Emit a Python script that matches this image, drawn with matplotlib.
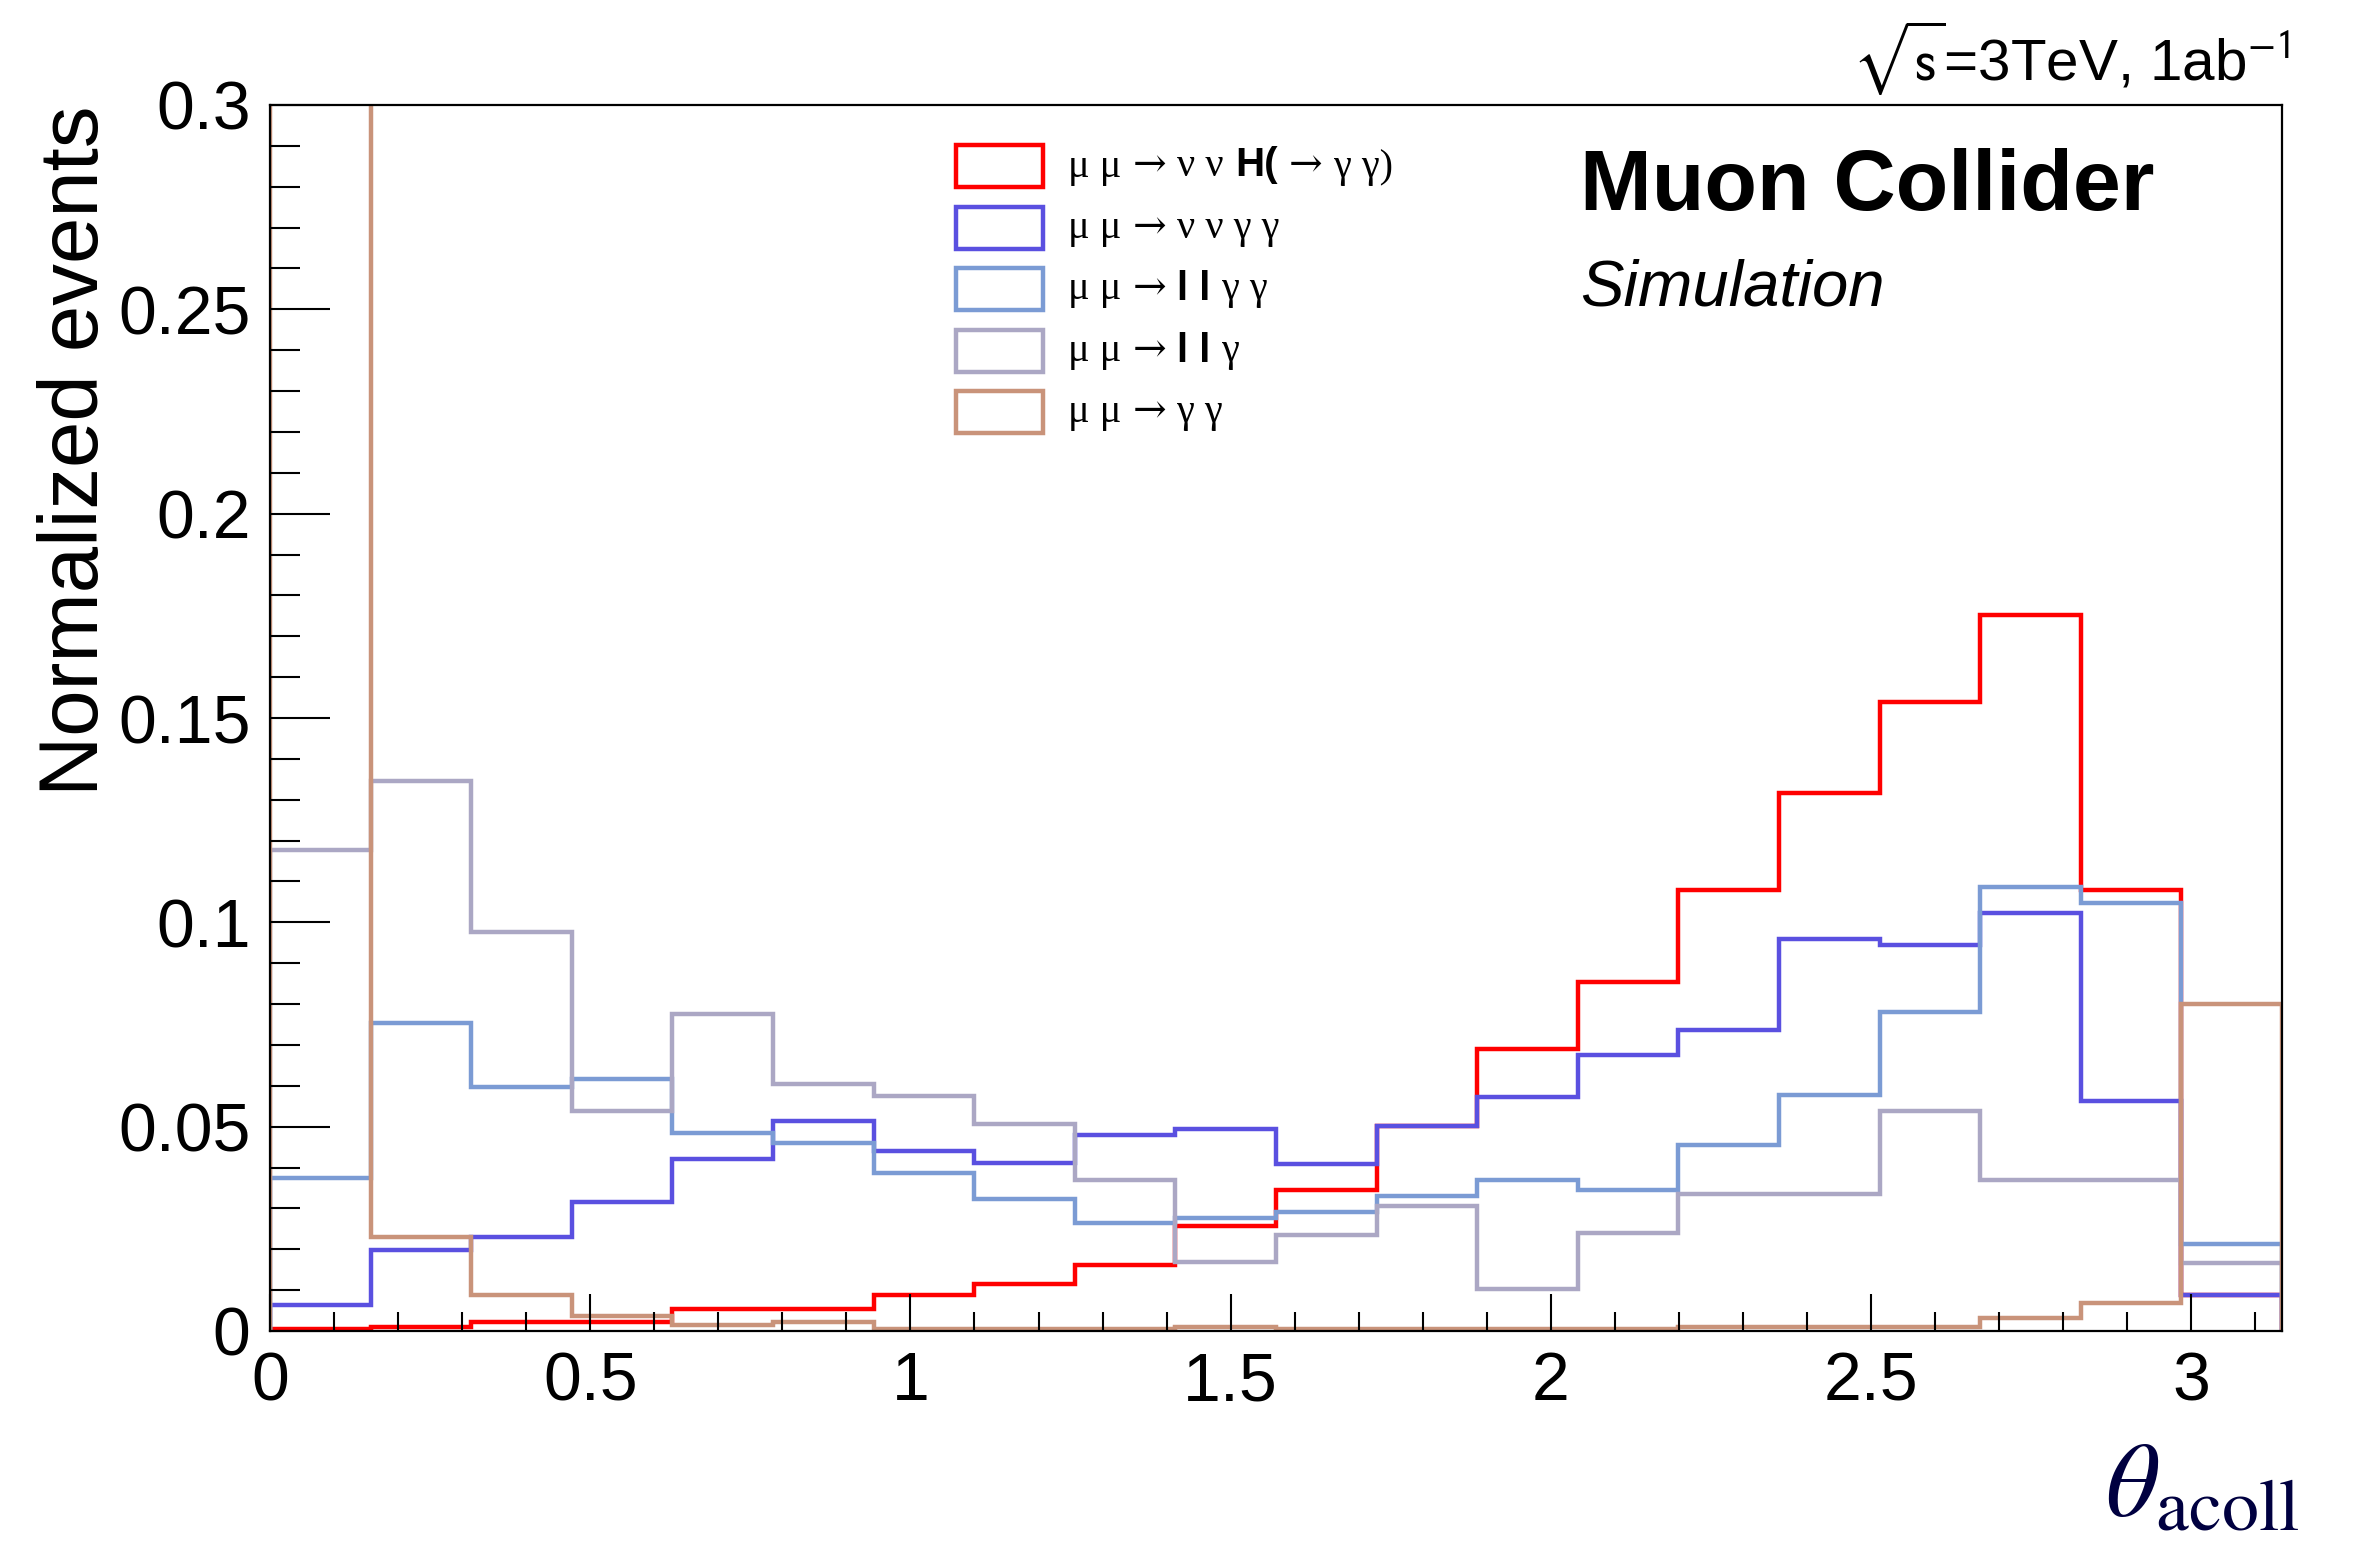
import numpy as np
import matplotlib
matplotlib.use("Agg")
import matplotlib.pyplot as plt
from matplotlib.patches import Rectangle
from matplotlib.ticker import MultipleLocator, FuncFormatter
from matplotlib.offsetbox import TextArea, HPacker, AnchoredOffsetbox

# acollinearity angle, 20 bins between 0 and pi
edges = np.linspace(0, np.pi, 21)

h_nnh = [0.0005, 0.0010, 0.0023, 0.0023, 0.0054, 0.0054, 0.0087, 0.0115, 0.0162, 0.0258,
         0.0344, 0.0501, 0.0689, 0.0853, 0.1078, 0.1317, 0.1540, 0.1753, 0.1078, 0.0087]
h_nngg = [0.0063, 0.0199, 0.0231, 0.0316, 0.0422, 0.0514, 0.0441, 0.0412, 0.0480, 0.0494,
          0.0408, 0.0501, 0.0572, 0.0675, 0.0736, 0.0958, 0.0944, 0.1022, 0.0564, 0.0087]
h_llgg = [0.0375, 0.0754, 0.0598, 0.0617, 0.0485, 0.0459, 0.0386, 0.0323, 0.0265, 0.0276,
          0.0290, 0.0330, 0.0370, 0.0344, 0.0455, 0.0578, 0.0780, 0.1087, 0.1047, 0.0213]
h_llg = [0.1176, 0.1346, 0.0977, 0.0539, 0.0776, 0.0604, 0.0574, 0.0506, 0.0370, 0.0168,
         0.0236, 0.0305, 0.0103, 0.0239, 0.0335, 0.0335, 0.0539, 0.0370, 0.0370, 0.0167]
h_gg = [0.5500, 0.0231, 0.0089, 0.0036, 0.0014, 0.0023, 0.0005, 0.0005, 0.0005, 0.0010,
        0.0005, 0.0005, 0.0005, 0.0005, 0.0010, 0.0010, 0.0010, 0.0033, 0.0068, 0.0801]

samples = [h_nnh, h_nngg, h_llgg, h_llg, h_gg]
colors = ["#ff0000", "#5a50e0", "#7b9bd4", "#aba7c4", "#c9937a"]

SER = ["Liberation Serif", "DejaVu Serif"]
ARR = ["DejaVu Serif"]
SANS = ["Liberation Sans", "DejaVu Sans"]
labels = [
    [("μ μ", SER, "normal"), ("→", ARR, "normal"), ("ν ν", SER, "normal"),
     ("H(", SANS, "bold"), ("→", ARR, "normal"), ("γ γ)", SER, "normal")],
    [("μ μ", SER, "normal"), ("→", ARR, "normal"), ("ν ν γ γ", SER, "normal")],
    [("μ μ", SER, "normal"), ("→", ARR, "normal"), ("l l", SANS, "bold"),
     ("γ γ", SER, "normal")],
    [("μ μ", SER, "normal"), ("→", ARR, "normal"), ("l l", SANS, "bold"),
     ("γ", SER, "normal")],
    [("μ μ", SER, "normal"), ("→", ARR, "normal"), ("γ γ", SER, "normal")],
]

plt.rcParams["font.family"] = SANS

W, H = 2356, 1542
fig = plt.figure(figsize=(W / 100, H / 100), dpi=100)
ax = fig.add_axes([270 / W, 1 - 1331 / H, (2282 - 270) / W, (1331 - 105) / H])

for vals, c in zip(samples, colors):
    ax.stairs(vals, edges, color=c, lw=3.2)

ax.set_xlim(0, np.pi)
ax.set_ylim(0, 0.3)

for s in ax.spines.values():
    s.set_linewidth(1.6)

ax.xaxis.set_major_locator(MultipleLocator(0.5))
ax.xaxis.set_minor_locator(MultipleLocator(0.1))
ax.yaxis.set_major_locator(MultipleLocator(0.05))
ax.yaxis.set_minor_locator(MultipleLocator(0.01))
fmt = FuncFormatter(lambda v, p: "%g" % round(v, 3))
ax.xaxis.set_major_formatter(fmt)
ax.yaxis.set_major_formatter(fmt)

ax.tick_params(axis="both", which="both", direction="in", width=1.5,
               top=False, right=False, labelsize=49)
ax.tick_params(axis="y", which="major", length=43, pad=14)
ax.tick_params(axis="y", which="minor", length=21.5)
ax.tick_params(axis="x", which="major", length=27, pad=14)
ax.tick_params(axis="x", which="minor", length=13.5)

fig.text(76 / W, 1 - 105 / H, "Normalized events", rotation=90,
         ha="center", va="top", fontsize=60)
fig.text(2300 / W, 1 - 1538 / H, r"$\theta_{\mathrm{acoll}}$", ha="right",
         va="bottom", fontsize=76, color="#000040", math_fontfamily="stix")

fig.text(2290 / W, 1 - 80 / H, r"$\sqrt{\mathrm{s}}$=3TeV, 1ab$^{-1}$", ha="right",
         va="baseline", fontsize=42, math_fontfamily="stixsans")
fig.text(1580 / W, 1 - 210 / H, "Muon Collider", ha="left", va="baseline",
         fontsize=62, weight="bold")
fig.text(1580 / W, 1 - 305 / H, "Simulation", ha="left", va="baseline",
         fontsize=47, style="italic")

# legend: open boxes plus text
row_y = [166, 228, 289, 351, 412]
for yc, c, parts in zip(row_y, colors, labels):
    fig.add_artist(Rectangle((956 / W, 1 - (yc + 21) / H), 87 / W, 42 / H,
                             transform=fig.transFigure, fill=False,
                             ec=c, lw=3.2))
    boxes = [TextArea(t, textprops=dict(fontsize=29, family=f, weight=w))
             for t, f, w in parts]
    pack = HPacker(children=boxes, align="baseline", pad=0, sep=8)
    ab = AnchoredOffsetbox(loc="center left", child=pack,
                           bbox_to_anchor=(1068 / W, 1 - yc / H),
                           bbox_transform=fig.transFigure,
                           frameon=False, pad=0, borderpad=0)
    fig.add_artist(ab)

fig.savefig("out.png", dpi=100)
